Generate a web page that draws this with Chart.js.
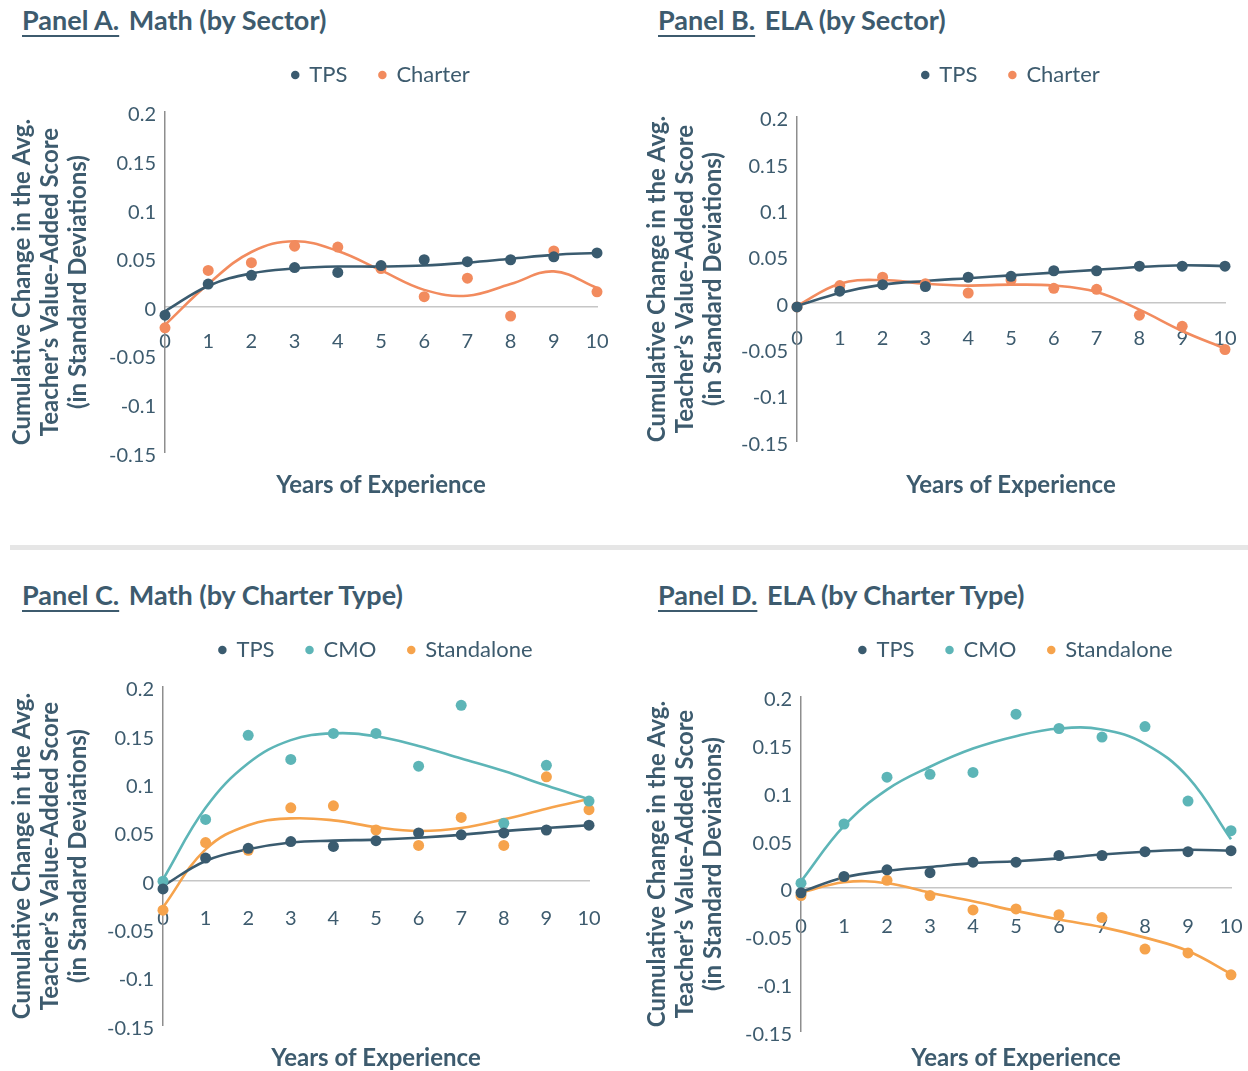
<!DOCTYPE html>
<html>
<head>
<meta charset="utf-8">
<script src="https://cdn.jsdelivr.net/npm/chart.js@4.4.1/dist/chart.umd.min.js"></script>
<style>
  body { margin: 0; background: #fff; width: 1248px; height: 1071px; position: relative; overflow: hidden;
         font-family: Lato, "Noto Sans", sans-serif; color: #3d5b6e; }
  .ttl { position: absolute; font-weight: 700; font-size: 27px; white-space: nowrap; line-height: 30px; }
  .ttl span { text-decoration: underline; text-decoration-thickness: 2px; text-underline-offset: 5px; margin-right: 3px; }
  canvas { position: absolute; }
  .sep { position: absolute; left: 10px; top: 545px; width: 1238px; height: 5px; background: #e6e6e6; }
</style>
</head>
<body>
<div class="ttl" style="left:22px;top:5px"><span>Panel A.</span> Math (by Sector)</div>
<div class="ttl" style="left:658px;top:5px"><span>Panel B.</span> ELA (by Sector)</div>
<div class="sep"></div>
<div class="ttl" style="left:22px;top:580px"><span>Panel C.</span> Math (by Charter Type)</div>
<div class="ttl" style="left:658px;top:580px"><span>Panel D.</span> ELA (by Charter Type)</div>

<canvas id="panel-a" width="626" height="472" style="left:0;top:30px"></canvas>
<canvas id="panel-b" width="622" height="472" style="left:626px;top:30px"></canvas>
<canvas id="panel-c" width="626" height="470" style="left:0;top:605px"></canvas>
<canvas id="panel-d" width="622" height="470" style="left:626px;top:605px"></canvas>

<script>
// Datos comunes
const years = [0, 1, 2, 3, 4, 5, 6, 7, 8, 9, 10];
const yTicks = [-0.15, -0.1, -0.05, 0, 0.05, 0.1, 0.15, 0.2];
const yTickLabels = ['-0.15', '-0.1', '-0.05', '0', '0.05', '0.1', '0.15', '0.2'];
const yTitle = ['Cumulative Change in the Avg.', 'Teacher\u2019s Value-Added Score', '(in Standard Deviations)'];
const xTitle = 'Years of Experience';

// Panel A: Math por sector
const mathSectorTps = [-0.009, 0.023, 0.032, 0.040, 0.035, 0.042, 0.048, 0.046, 0.048, 0.051, 0.055];
const mathSectorTpsTrend = [-0.005, 0.021, 0.034, 0.039, 0.041, 0.041, 0.042, 0.045, 0.049, 0.053, 0.055];
const mathSectorCharter = [-0.022, 0.037, 0.045, 0.062, 0.061, 0.039, 0.010, 0.029, -0.010, 0.057, 0.015];
const mathSectorCharterTrend = [-0.019, 0.023, 0.056, 0.067, 0.057, 0.037, 0.017, 0.011, 0.023, 0.036, 0.019];

// Panel B: ELA por sector
const elaSectorTps = [-0.005, 0.012, 0.019, 0.017, 0.027, 0.028, 0.034, 0.034, 0.039, 0.039, 0.039];
const elaSectorTpsTrend = [-0.004, 0.010, 0.019, 0.023, 0.026, 0.029, 0.032, 0.035, 0.038, 0.040, 0.039];
const elaSectorCharter = [-0.005, 0.018, 0.027, 0.020, 0.010, 0.024, 0.015, 0.014, -0.014, -0.026, -0.051];
const elaSectorCharterTrend = [-0.004, 0.020, 0.024, 0.020, 0.018, 0.019, 0.018, 0.011, -0.008, -0.031, -0.050];

// Panel C: Math por tipo de charter
const mathTypeTps = [-0.009, 0.023, 0.033, 0.040, 0.035, 0.041, 0.049, 0.047, 0.049, 0.052, 0.057];
const mathTypeTpsTrend = [-0.006, 0.020, 0.032, 0.039, 0.041, 0.042, 0.044, 0.047, 0.051, 0.054, 0.057];
const mathTypeCmo = [-0.001, 0.063, 0.150, 0.125, 0.152, 0.152, 0.118, 0.181, 0.059, 0.119, 0.082];
const mathTypeCmoTrend = [0.001, 0.075, 0.121, 0.145, 0.152, 0.149, 0.139, 0.126, 0.113, 0.098, 0.084];
const mathTypeStandalone = [-0.031, 0.039, 0.031, 0.075, 0.077, 0.052, 0.036, 0.065, 0.036, 0.107, 0.073];
const mathTypeStandaloneTrend = [-0.028, 0.032, 0.057, 0.064, 0.062, 0.055, 0.051, 0.054, 0.063, 0.074, 0.084];

// Panel D: ELA por tipo de charter
const elaTypeTps = [-0.005, 0.012, 0.019, 0.016, 0.027, 0.027, 0.034, 0.034, 0.038, 0.038, 0.039];
const elaTypeTpsTrend = [-0.004, 0.011, 0.018, 0.022, 0.026, 0.028, 0.031, 0.035, 0.038, 0.040, 0.039];
const elaTypeCmo = [0.005, 0.067, 0.116, 0.119, 0.121, 0.182, 0.167, 0.158, 0.169, 0.091, 0.060];
const elaTypeCmoTrend = [0.007, 0.065, 0.103, 0.127, 0.146, 0.159, 0.167, 0.166, 0.151, 0.116, 0.051];
const elaTypeStandalone = [-0.008, 0.011, 0.008, -0.008, -0.023, -0.022, -0.028, -0.031, -0.064, -0.068, -0.091];
const elaTypeStandaloneTrend = [-0.005, 0.006, 0.005, -0.005, -0.014, -0.024, -0.033, -0.041, -0.052, -0.066, -0.090];

// Colores
const TEXT = '#3d5b6e';
const C_TPS = '#3a5b6f';
const C_CHARTER = '#f28b5e';
const C_CMO = '#5db5b7';
const C_STANDALONE = '#f6a34c';

Chart.defaults.font.family = 'Lato, "Noto Sans", sans-serif';
Chart.defaults.color = TEXT;

// Espacio extra entre la leyenda y el área del gráfico
const legendGap = {
    id: 'legendGap',
    afterInit(chart, args, opts) {
        const fit = chart.legend.fit;
        chart.legend.fit = function () {
            fit.call(this);
            this.height += opts.gap || 0;
        };
    }
};

const toPoints = values => years.map((x, i) => ({x: x, y: values[i]}));

function makePanel(id, series, lay) {
    const datasets = [];
    series.forEach(s => {
        datasets.push({
            label: s.label,
            data: toPoints(s.points),
            backgroundColor: s.color,
            borderColor: s.color,
            borderWidth: 0,
            pointRadius: 5.5,
            showLine: false,
            clip: false,
            order: 0
        });
    });
    series.forEach(s => {
        datasets.push({
            label: s.label + ' trend',
            data: toPoints(s.trend),
            borderColor: s.color,
            borderWidth: 2.6,
            pointRadius: 0,
            showLine: true,
            tension: 0.4,
            clip: false,
            order: 1
        });
    });

    new Chart(document.getElementById(id), {
        type: 'scatter',
        data: {datasets: datasets},
        plugins: [legendGap],
        options: {
            responsive: false,
            animation: false,
            layout: {padding: {left: 0, right: lay.padRight, top: lay.padTop, bottom: lay.padBottom}},
            scales: {
                x: {
                    type: 'linear',
                    min: 0,
                    max: 10,
                    position: {y: 0},
                    afterBuildTicks: s => { s.ticks = years.map(v => ({value: v})); },
                    // las etiquetas no deben empujar el área del gráfico
                    afterFit: s => { s.paddingLeft = 0; s.paddingRight = 0; },
                    ticks: {font: {size: 20}, color: TEXT, padding: lay.xTickPad, maxRotation: 0, autoSkip: false},
                    grid: {display: false, drawTicks: false},
                    border: {color: '#c6c6c6', width: 1.5}
                },
                y: {
                    min: -0.15,
                    max: 0.2,
                    afterBuildTicks: s => { s.ticks = yTicks.map(v => ({value: v})); },
                    afterFit: s => { s.width = lay.yWidth; },
                    ticks: {font: {size: 20}, color: TEXT, padding: 9, labelOffset: 3, callback: (v, i) => yTickLabels[i]},
                    grid: {display: false, drawTicks: false},
                    border: {color: '#8e8e8e', width: 1.5},
                    title: {
                        display: true,
                        text: yTitle,
                        color: TEXT,
                        font: {size: 24, weight: 'bold', lineHeight: 28 / 24},
                        padding: {top: lay.yTitlePad, bottom: 0}
                    }
                }
            },
            plugins: {
                legendGap: {gap: lay.legendGap},
                legend: {
                    position: 'top',
                    fullSize: false,
                    labels: {
                        usePointStyle: true,
                        pointStyle: 'circle',
                        boxWidth: 6,
                        boxHeight: 6,
                        padding: 32,
                        color: TEXT,
                        font: {size: 22},
                        filter: item => !item.text.endsWith(' trend')
                    }
                },
                title: {
                    display: true,
                    position: 'bottom',
                    fullSize: false,
                    text: xTitle,
                    color: TEXT,
                    font: {size: 24, weight: 'bold', lineHeight: 1.2},
                    padding: {top: lay.xTitlePad, bottom: 0}
                },
                tooltip: {enabled: false}
            }
        }
    });
}

makePanel('panel-a', [
    {label: 'TPS', color: C_TPS, points: mathSectorTps, trend: mathSectorTpsTrend},
    {label: 'Charter', color: C_CHARTER, points: mathSectorCharter, trend: mathSectorCharterTrend}
], {yWidth: 165, padRight: 29, padTop: 2, legendGap: 16, padBottom: 2, xTitlePad: 19, xTickPad: 23, yTitlePad: 8});

makePanel('panel-b', [
    {label: 'TPS', color: C_TPS, points: elaSectorTps, trend: elaSectorTpsTrend},
    {label: 'Charter', color: C_CHARTER, points: elaSectorCharter, trend: elaSectorCharterTrend}
], {yWidth: 171, padRight: 23, padTop: 2, legendGap: 21, padBottom: 2, xTitlePad: 30, xTickPad: 24, yTitlePad: 17});

makePanel('panel-c', [
    {label: 'TPS', color: C_TPS, points: mathTypeTps, trend: mathTypeTpsTrend},
    {label: 'CMO', color: C_CMO, points: mathTypeCmo, trend: mathTypeCmoTrend},
    {label: 'Standalone', color: C_STANDALONE, points: mathTypeStandalone, trend: mathTypeStandaloneTrend}
], {yWidth: 163, padRight: 37, padTop: 2, legendGap: 16, padBottom: 2, xTitlePad: 19, xTickPad: 26, yTitlePad: 8});

makePanel('panel-d', [
    {label: 'TPS', color: C_TPS, points: elaTypeTps, trend: elaTypeTpsTrend},
    {label: 'CMO', color: C_CMO, points: elaTypeCmo, trend: elaTypeCmoTrend},
    {label: 'Standalone', color: C_STANDALONE, points: elaTypeStandalone, trend: elaTypeStandaloneTrend}
], {yWidth: 175, padRight: 17, padTop: 2, legendGap: 26, padBottom: 2, xTitlePad: 13, xTickPad: 27, yTitlePad: 17});
</script>
</body>
</html>
